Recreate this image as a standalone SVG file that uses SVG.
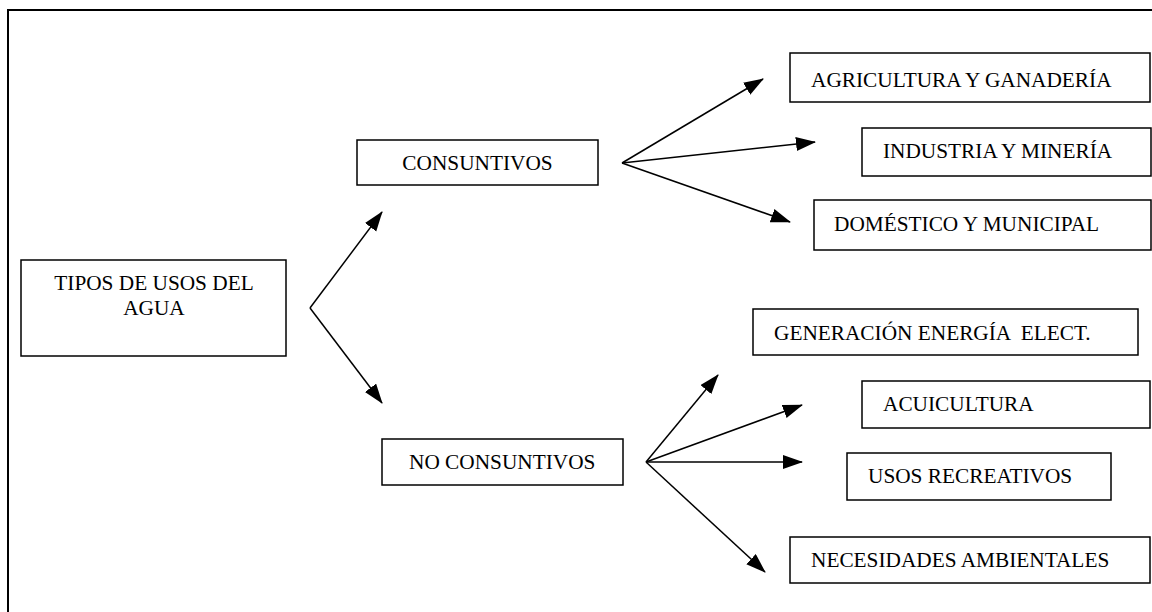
<svg xmlns="http://www.w3.org/2000/svg" width="1152" height="612" viewBox="0 0 1152 612">
<style>
.box{fill:#fff;stroke:#000;stroke-width:1.5}
.frame{fill:none;stroke:#000;stroke-width:2}
.lbl{font-family:"Liberation Serif","Times New Roman",serif;font-size:21.3px;fill:#000;white-space:pre}
.c{text-anchor:middle}
.arr{stroke:#000;stroke-width:1.5;fill:none;marker-end:url(#ah)}
</style>
<defs>
<marker id="ah" markerUnits="userSpaceOnUse" markerWidth="20" markerHeight="15" refX="19" refY="7" orient="auto" viewBox="0 0 20 15">
<path d="M0,0 L20,7 L0,14 z" fill="#000"/>
</marker>
</defs>
<rect width="1152" height="612" fill="#fff"/>
<path class="frame" d="M1160,10 H8 V620"/>
<g id="connectors">
<line class="arr" x1="310" y1="308" x2="382" y2="212"/>
<line class="arr" x1="310" y1="308" x2="382" y2="403"/>
<line class="arr" x1="622" y1="163" x2="763" y2="79"/>
<line class="arr" x1="622" y1="163" x2="815" y2="142"/>
<line class="arr" x1="622" y1="163" x2="790" y2="222"/>
<line class="arr" x1="646" y1="462" x2="718" y2="375"/>
<line class="arr" x1="646" y1="462" x2="802" y2="405"/>
<line class="arr" x1="646" y1="462" x2="802" y2="462"/>
<line class="arr" x1="646" y1="462" x2="765" y2="572"/>
</g>
<g id="tipos"><rect class="box" x="21" y="260" width="265" height="96"/><text class="lbl c" font-family="Liberation Serif" x="154" y="290">TIPOS DE USOS DEL</text><text class="lbl c" font-family="Liberation Serif" x="154" y="315">AGUA</text></g>
<g id="consuntivos"><rect class="box" x="357" y="140" width="241" height="45"/><text class="lbl c" font-family="Liberation Serif" x="477.5" y="170">CONSUNTIVOS</text></g>
<g id="no-consuntivos"><rect class="box" x="382" y="439" width="241" height="46"/><text class="lbl" font-family="Liberation Serif" x="409" y="469">NO CONSUNTIVOS</text></g>
<g id="agricultura"><rect class="box" x="790" y="53" width="360" height="49"/><text class="lbl" font-family="Liberation Serif" x="811" y="87">AGRICULTURA Y GANADERÍA</text></g>
<g id="industria"><rect class="box" x="862" y="128" width="289" height="48"/><text class="lbl" font-family="Liberation Serif" x="883" y="158">INDUSTRIA Y MINERÍA</text></g>
<g id="domestico"><rect class="box" x="814" y="200" width="337" height="50"/><text class="lbl" font-family="Liberation Serif" x="834" y="231">DOMÉSTICO Y MUNICIPAL</text></g>
<g id="generacion"><rect class="box" x="753" y="309" width="385" height="46"/><text class="lbl" font-family="Liberation Serif" x="774" y="340">GENERACIÓN ENERGÍA  ELECT.</text></g>
<g id="acuicultura"><rect class="box" x="862" y="381" width="288" height="47"/><text class="lbl" font-family="Liberation Serif" x="883" y="411">ACUICULTURA</text></g>
<g id="recreativos"><rect class="box" x="847" y="453" width="264" height="47"/><text class="lbl" font-family="Liberation Serif" x="868" y="483">USOS RECREATIVOS</text></g>
<g id="ambientales"><rect class="box" x="790" y="537" width="360" height="46"/><text class="lbl" font-family="Liberation Serif" x="811" y="567">NECESIDADES AMBIENTALES</text></g>
</svg>
